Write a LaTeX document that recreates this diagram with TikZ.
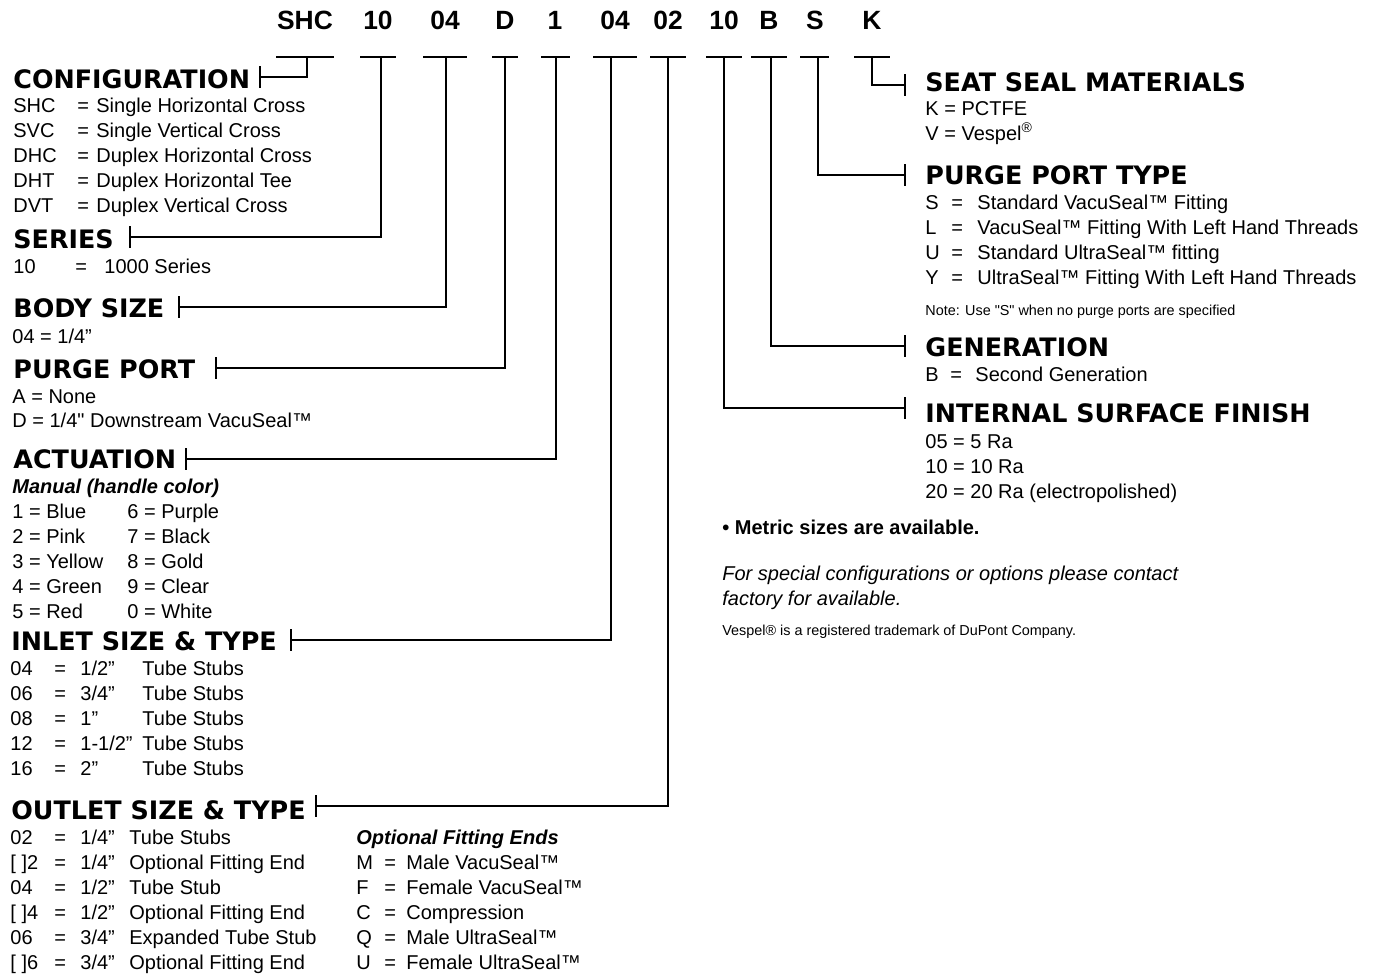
\documentclass[tikz,border=0pt]{standalone}
\usepackage{fontspec}
\setmainfont{Liberation Sans}[Ligatures=TeXOff]
\newfontfamily\headfont{DejaVu Sans}
\newfontfamily\codefont{Liberation Sans}
\newcommand{\mythree}[7]{%
  \node[txt] (#1a) at (#3,#2) {#6};
  \node[txt] (#1e) at (#4,#2) {=};
  \node[txt] (#1b) at (#5,#2) {#7};}
\newcommand{\myfour}[6]{%
  \node[txt] (#1a) at (10,#2) {#3};
  \node[txt] (#1e) at (54,#2) {=};
  \node[txt] (#1s) at (80,#2) {#4};
  \node[txt] (#1b) at (#6,#2) {#5};}
\begin{document}
\begin{tikzpicture}[x=0.5pt,y=-0.5pt,
  txt/.style={font=\fontsize{10}{12}\selectfont, anchor=west, inner sep=0pt, text height=7.2pt, text depth=0pt},
  itxt/.style={txt, font=\fontsize{10}{12}\selectfont\itshape},
  bitxt/.style={txt, font=\fontsize{10}{12}\selectfont\bfseries\itshape},
  btxt/.style={txt, font=\fontsize{10}{12}\selectfont\bfseries},
  head/.style={font={\headfont\bfseries\fontsize{12.7}{14}\selectfont}, anchor=west, inner sep=0pt, text height=9.2pt, text depth=0pt},
  code/.style={font={\codefont\bfseries\fontsize{13.2}{15}\selectfont}, anchor=center, inner sep=0pt, text height=9.4pt, text depth=0pt},
  small/.style={font=\fontsize{7.2}{9}\selectfont, anchor=west, inner sep=0pt, text height=5.2pt, text depth=0pt},
  conn/.style={line width=1pt},
  tick/.style={line width=1pt}]
\useasboundingbox (0,0) rectangle (1376,975);

% code row
\node[code] (c1) at (305,20) {SHC};
\node[code] (c2) at (378,20) {10};
\node[code] (c3) at (445,20) {04};
\node[code] (c4) at (505,20) {D};
\node[code] (c5) at (555,20) {1};
\node[code] (c6) at (615,20) {04};
\node[code] (c7) at (668,20) {02};
\node[code] (c8) at (724,20) {10};
\node[code] (c9) at (769,20) {B};
\node[code] (c10) at (815,20) {S};
\node[code] (c11) at (872,20) {K};

% underlines
\draw[conn] (276,57) -- (334,57);
\draw[conn] (360,57) -- (396,57);
\draw[conn] (423,57) -- (467,57);
\draw[conn] (492,57) -- (518,57);
\draw[conn] (541,57) -- (570,57);
\draw[conn] (593,57) -- (637,57);
\draw[conn] (650,57) -- (686,57);
\draw[conn] (706,57) -- (742,57);
\draw[conn] (751,57) -- (787,57);
\draw[conn] (800,57) -- (829,57);
\draw[conn] (854,57) -- (890,57);

% stem tops
\coordinate (s1) at (307,57);
\coordinate (s2) at (381,57);
\coordinate (s3) at (446,57);
\coordinate (s4) at (505,57);
\coordinate (s5) at (556,57);
\coordinate (s6) at (611,57);
\coordinate (s7) at (668,57);
\coordinate (s8) at (724,57);
\coordinate (s9) at (771,57);
\coordinate (s10) at (818,57);
\coordinate (s11) at (872,57);

% heading tick points
\coordinate (t1) at (260,77);
\coordinate (t2) at (130,237);
\coordinate (t3) at (179,307);
\coordinate (t4) at (216,368);
\coordinate (t5) at (186,459);
\coordinate (t6) at (291,640);
\coordinate (t7) at (316,806);
\coordinate (t8) at (905,408);
\coordinate (t9) at (905,346);
\coordinate (t10) at (905,175);
\coordinate (t11) at (905,85);

\foreach \i in {1,...,11}{
  \draw[conn] (s\i) |- (t\i);
  \draw[tick] ([yshift=5.5pt]t\i) -- ([yshift=-5.5pt]t\i);
}

% left headings
\node[head] (hconf) at (13,79) {CONFIGURATION};
\node[head] (hser) at (13,239) {SERIES};
\node[head] (hbody) at (13,308) {BODY SIZE};
\node[head] (hpurge) at (13,369) {PURGE PORT};
\node[head] (hact) at (13,459) {ACTUATION};
\node[head] (hin) at (11,641) {INLET SIZE \& TYPE};
\node[head] (hout) at (11,810) {OUTLET SIZE \& TYPE};

% configuration
\mythree{cf1}{105}{13}{77}{96}{SHC}{Single Horizontal Cross}
\mythree{cf2}{130}{13}{77}{96}{SVC}{Single Vertical Cross}
\mythree{cf3}{155}{13}{77}{96}{DHC}{Duplex Horizontal Cross}
\mythree{cf4}{180}{13}{77}{96}{DHT}{Duplex Horizontal Tee}
\mythree{cf5}{205}{13}{77}{96}{DVT}{Duplex Vertical Cross}

% series
\mythree{se1}{266}{13}{75}{104}{10}{1000 Series}

% body
\node[txt] (bd1) at (12,336) {04 = 1/4”};

% purge port
\node[txt] (pp1) at (12,396) {A = None};
\node[txt] (pp2) at (12,420) {D = 1/4" Downstream VacuSeal™};

% actuation
\node[bitxt] (man) at (12,486) {Manual (handle color)};
\node[txt] (ac1) at (12,511) {1 = Blue};
\node[txt] (ac2) at (12,536) {2 = Pink};
\node[txt] (ac3) at (12,561) {3 = Yellow};
\node[txt] (ac4) at (12,586) {4 = Green};
\node[txt] (ac5) at (12,611) {5 = Red};
\node[txt] (ac6) at (127,511) {6 = Purple};
\node[txt] (ac7) at (127,536) {7 = Black};
\node[txt] (ac8) at (127,561) {8 = Gold};
\node[txt] (ac9) at (127,586) {9 = Clear};
\node[txt] (ac0) at (127,611) {0 = White};

% inlet
\myfour{in1}{668}{04}{1/2”}{Tube Stubs}{142}
\myfour{in2}{693}{06}{3/4”}{Tube Stubs}{142}
\myfour{in3}{718}{08}{1”}{Tube Stubs}{142}
\myfour{in4}{743}{12}{1-1/2”}{Tube Stubs}{142}
\myfour{in5}{768}{16}{2”}{Tube Stubs}{142}

% outlet
\myfour{ou1}{837}{02}{1/4”}{Tube Stubs}{129}
\myfour{ou2}{862}{[ ]2}{1/4”}{Optional Fitting End}{129}
\myfour{ou3}{887}{04}{1/2”}{Tube Stub}{129}
\myfour{ou4}{912}{[ ]4}{1/2”}{Optional Fitting End}{129}
\myfour{ou5}{937}{06}{3/4”}{Expanded Tube Stub}{129}
\myfour{ou6}{962}{[ ]6}{3/4”}{Optional Fitting End}{129}

\node[bitxt] (opt) at (356,837) {Optional Fitting Ends};
\mythree{of1}{862}{356}{384}{406}{M}{Male VacuSeal™}
\mythree{of2}{887}{356}{384}{406}{F}{Female VacuSeal™}
\mythree{of3}{912}{356}{384}{406}{C}{Compression}
\mythree{of4}{937}{356}{384}{406}{Q}{Male UltraSeal™}
\mythree{of5}{962}{356}{384}{406}{U}{Female UltraSeal™}

% right headings
\node[head] (hseat) at (925,82) {SEAT SEAL MATERIALS};
\node[head] (hppt) at (925,175) {PURGE PORT TYPE};
\node[head] (hgen) at (925,347) {GENERATION};
\node[head] (hfin) at (925,413) {INTERNAL SURFACE FINISH};

\node[txt] (sk) at (925,108) {K = PCTFE};
\node[txt] (sv) at (925,133) {V = Vespel\textsuperscript{®}};

\mythree{pt1}{202}{925}{951}{977}{S}{Standard VacuSeal™ Fitting}
\mythree{pt2}{227}{925}{951}{977}{L}{VacuSeal™ Fitting With Left Hand Threads}
\mythree{pt3}{252}{925}{951}{977}{U}{Standard UltraSeal™ fitting}
\mythree{pt4}{277}{925}{951}{977}{Y}{UltraSeal™ Fitting With Left Hand Threads}
\node[small] (note) at (925,310) {Note: Use "S" when no purge ports are specified};

\mythree{gn1}{374}{925}{950}{975}{B}{Second Generation}

\node[txt] (fi1) at (925,441) {05 = 5 Ra};
\node[txt] (fi2) at (925,466) {10 = 10 Ra};
\node[txt] (fi3) at (925,491) {20 = 20 Ra (electropolished)};

\node[btxt] (metric) at (722,527) {• Metric sizes are available.};
\node[itxt] (sp1) at (722,573) {For special configurations or options please contact};
\node[itxt] (sp2) at (722,598) {factory for available.};
\node[small] (tm) at (722,630) {Vespel® is a registered trademark of DuPont Company.};
\end{tikzpicture}
\end{document}
